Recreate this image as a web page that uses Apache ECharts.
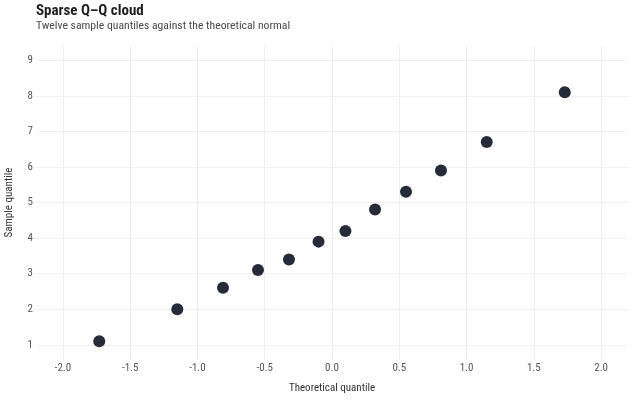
<!DOCTYPE html>
<html>
<head>
<meta charset="utf-8">
<script src="https://cdn.jsdelivr.net/npm/echarts@6/dist/echarts.min.js"></script>
<style>
html,body{margin:0;padding:0;background:#fff;}
#chart{width:640px;height:400px;}
</style>
</head>
<body>
<div id="chart"></div>
<script>
const titleText = "Sparse Q\u2013Q cloud";
const subtitleText = "Twelve sample quantiles against the theoretical normal";
const xAxisName = "Theoretical quantile";
const yAxisName = "Sample quantile";
const theoretical = [-1.73, -1.15, -0.81, -0.55, -0.32, -0.10, 0.10, 0.32, 0.55, 0.81, 1.15, 1.73];
const sample = [1.1, 2.0, 2.6, 3.1, 3.4, 3.9, 4.2, 4.8, 5.3, 5.9, 6.7, 8.1];

const FONT = "'Roboto Condensed', 'Liberation Sans Narrow', Roboto, sans-serif";
const points = theoretical.map((x, i) => [x, sample[i]]);

const chart = echarts.init(document.getElementById('chart'), null, {renderer: 'canvas'});
chart.setOption({
  backgroundColor: '#ffffff',
  animation: false,
  title: {
    text: titleText,
    subtext: subtitleText,
    left: 36,
    top: 4,
    padding: 0,
    itemGap: 1,
    textStyle: {fontFamily: FONT, fontSize: 15, fontWeight: 'bold', color: '#1f1f1f'},
    subtextStyle: {fontFamily: FONT, fontSize: 11.7, color: '#4a4a4a'}
  },
  grid: {left: 36, right: 12, top: 46, bottom: 41, containLabel: false, outerBoundsMode: 'none'},
  xAxis: {
    type: 'value',
    min: -2.2,
    max: 2.2,
    splitNumber: 9,
    name: xAxisName,
    nameLocation: 'middle',
    nameGap: 24,
    nameTextStyle: {fontFamily: FONT, fontSize: 11, color: '#333'},
    axisLine: {show: false},
    axisTick: {show: false},
    axisLabel: {showMinLabel: false, showMaxLabel: false, fontFamily: FONT, fontSize: 11, color: '#555', margin: 4,
      formatter: v => v.toFixed(1)},
    splitLine: {show: true, showMinLine: false, showMaxLine: false, lineStyle: {color: '#f0f0f0', width: 1}}
  },
  yAxis: {
    type: 'value',
    min: 0.6,
    max: 9.4,
    splitNumber: 9,
    name: yAxisName,
    nameLocation: 'middle',
    nameGap: 21,
    nameTextStyle: {fontFamily: FONT, fontSize: 11, color: '#333'},
    axisLine: {show: false},
    axisTick: {show: false},
    axisLabel: {showMinLabel: false, showMaxLabel: false, fontFamily: FONT, fontSize: 11, color: '#555', margin: 3,
      formatter: v => String(Math.round(v))},
    splitLine: {show: true, showMinLine: false, showMaxLine: false, lineStyle: {color: '#f0f0f0', width: 1}}
  },
  series: [{
    type: 'scatter',
    data: points,
    symbol: 'circle',
    symbolSize: 12,
    itemStyle: {color: '#262b3a', opacity: 1}
  }]
});
</script>
</body>
</html>
